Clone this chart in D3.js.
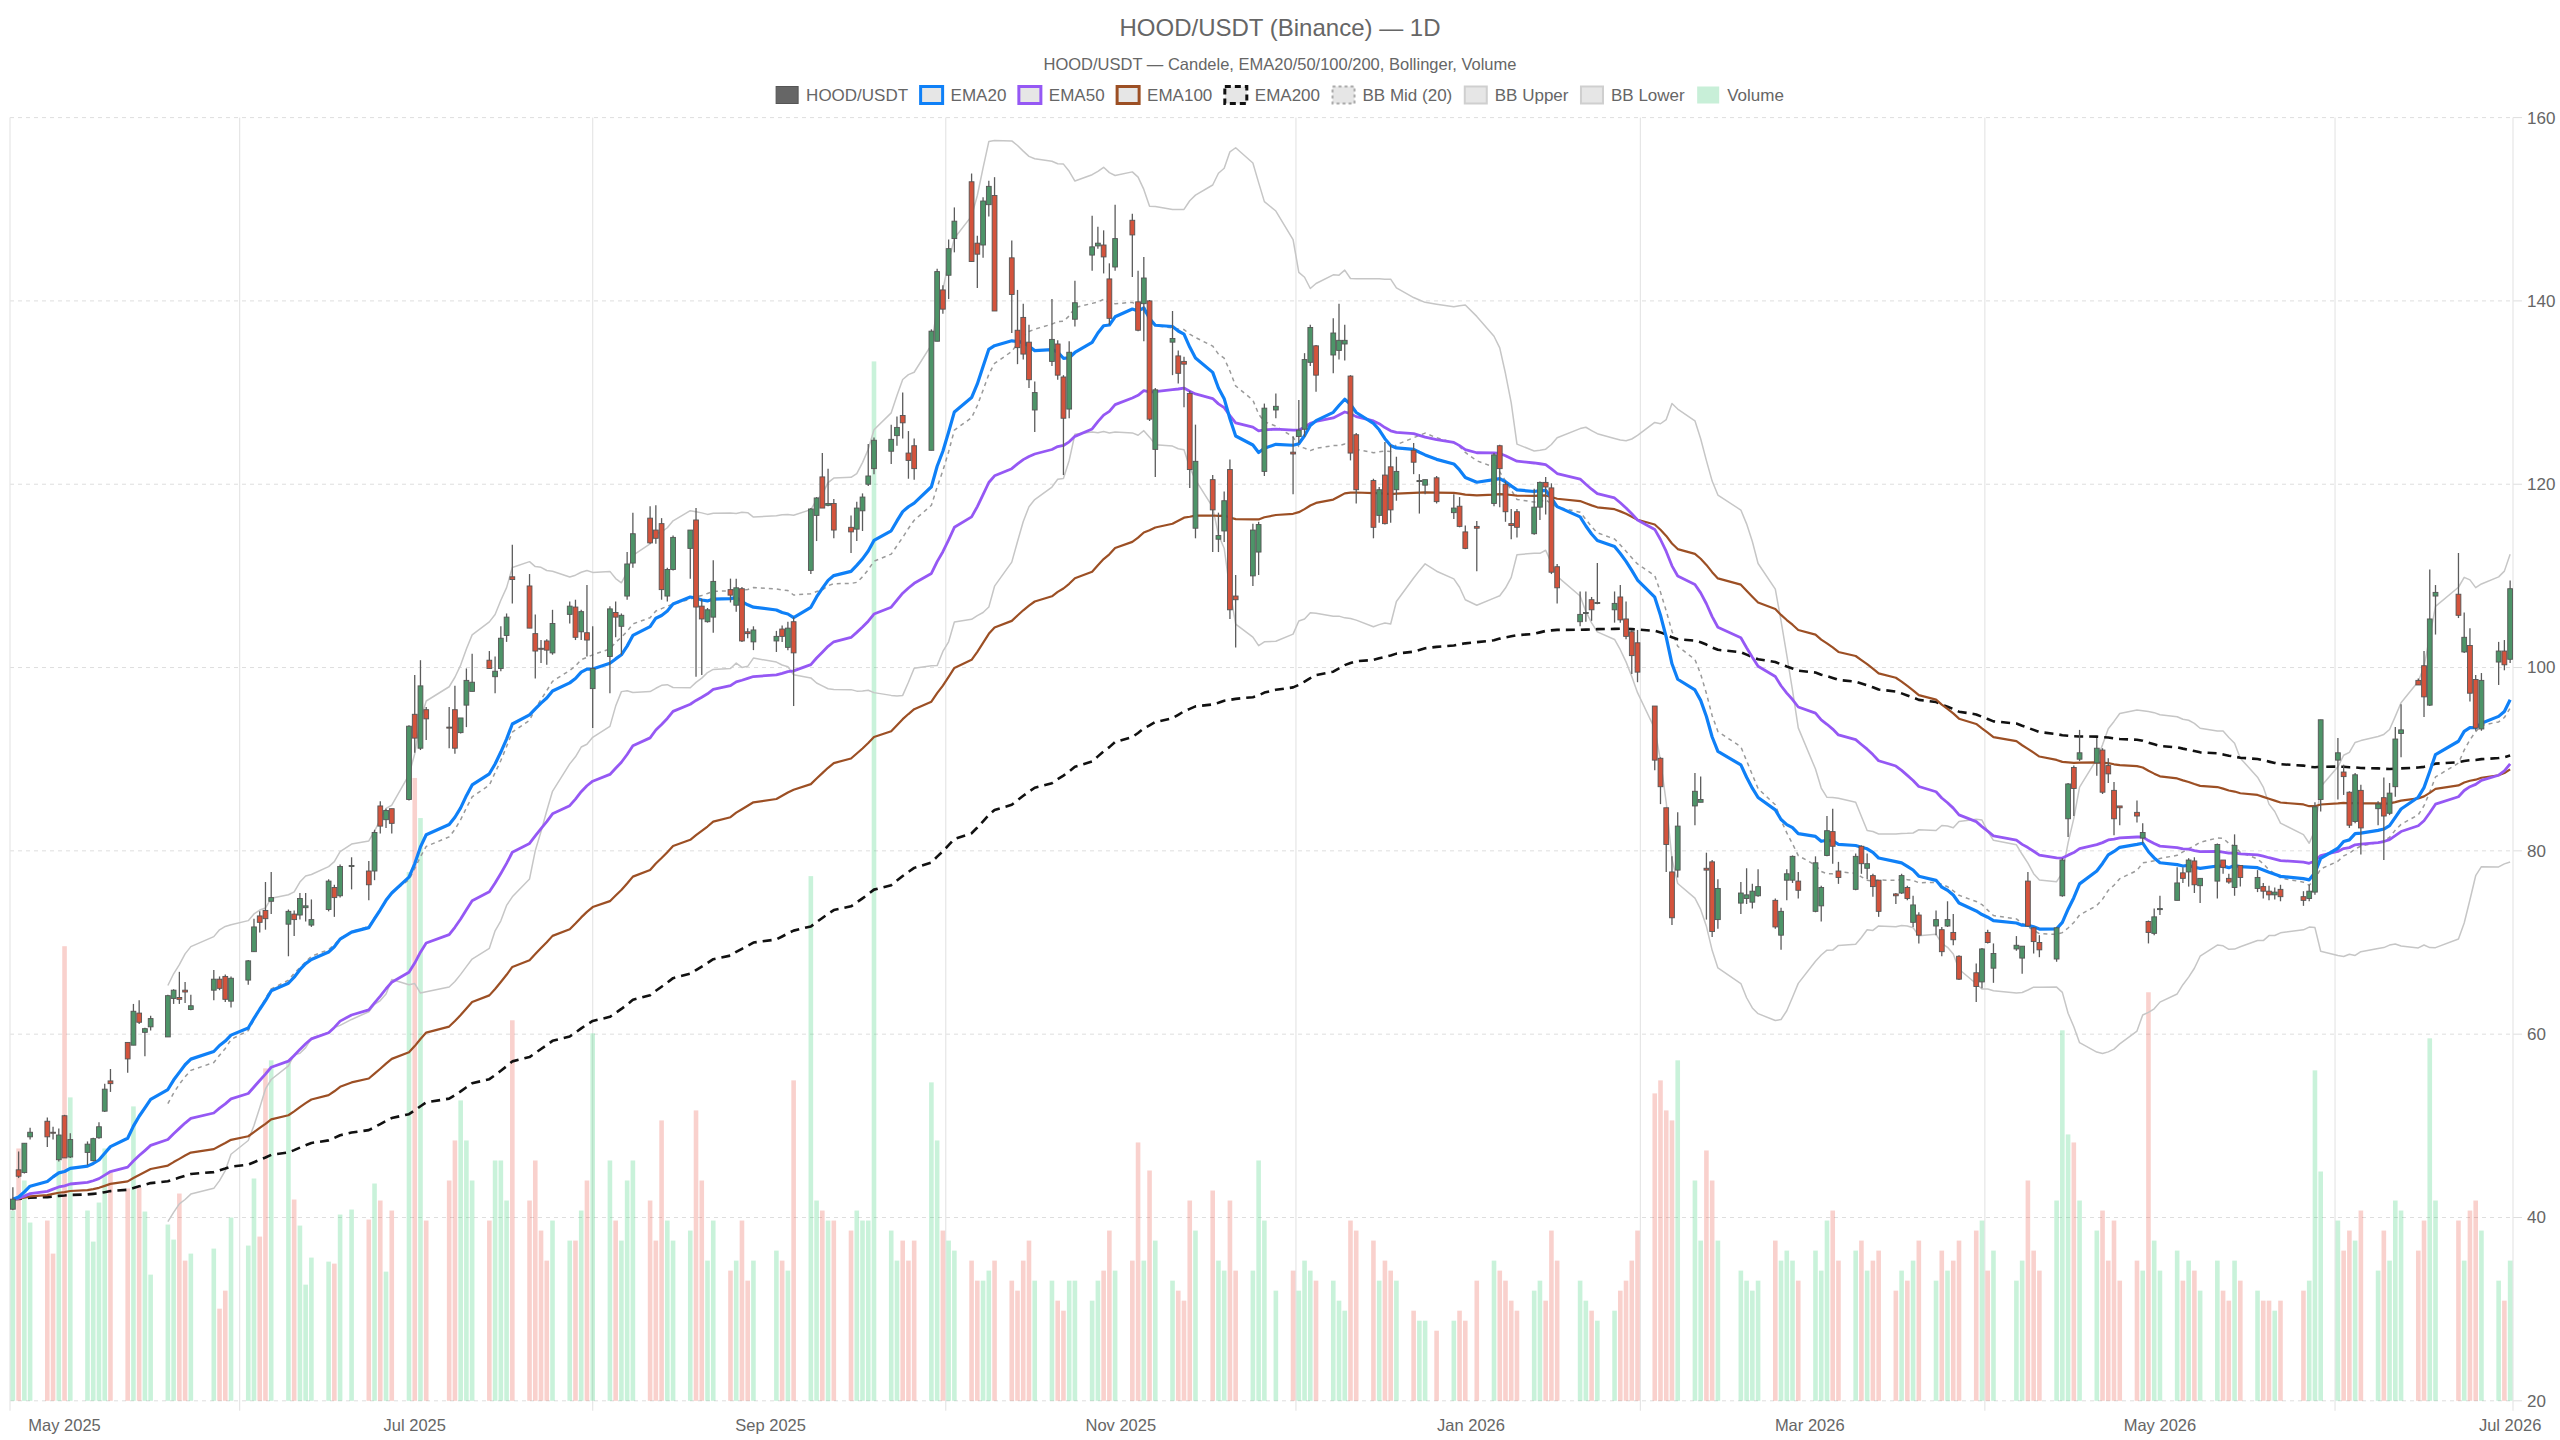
<!DOCTYPE html>
<html><head><meta charset="utf-8">
<script src="https://cdn.jsdelivr.net/npm/d3@7"></script>
<style>body{margin:0;background:#fff;}svg{display:block;font-family:"Liberation Sans",Arial,Helvetica,sans-serif;}</style>
</head><body>
<svg id="chart" width="2560" height="1440"></svg>
<script>
// ---------- DATA ----------
const startDate = "2025-04-22", endDate = "2026-07-01";
const holidays = ["2025-05-26","2025-06-19","2025-07-04","2025-09-01","2025-11-27","2025-12-25","2026-01-01","2026-01-19","2026-02-16","2026-04-03","2026-05-25","2026-06-19"];

const opens = [
40.9,45.2,44.9,48.8,50.5,49.3,46.3,
51.1,46.6,47.1,46.2,48.7,51.6,54.9,59.1,58.8,62.3,60.2,60.8,59.7,63.9,64.0,64.8,62.7,64.8,66.0,66.3,63.6,
65.9,69.0,72.9,73.5,74.5,72.0,73.1,73.0,73.8,71.9,73.6,76.0,75.1,78.3,77.8,77.8,84.9,83.4,84.6,85.6,
94.9,91.2,95.4,93.5,95.4,92.9,95.9,97.4,100.8,99.0,99.9,103.5,109.9,108.9,103.7,102.1,102.9,101.6,105.8,106.6,103.9,103.8,
97.7,101.2,106.0,104.5,107.8,111.4,116.3,115.0,115.7,107.8,110.7,113.0,116.1,106.7,105.0,105.5,108.5,106.8,108.6,103.9,102.8,
102.9,104.2,102.2,105.0,110.6,116.6,120.8,117.7,117.9,115.3,115.1,117.1,120.0,121.7,123.6,125.3,127.5,123.4,124.2,123.7,135.6,
141.2,142.8,146.8,153.0,146.3,146.1,150.5,151.5,144.7,136.8,138.2,135.5,128.1,133.4,135.3,131.7,128.2,138.0,145.0,146.0,146.1,142.4,143.7,
148.8,139.9,139.7,140.0,123.8,135.5,134.0,133.4,129.9,115.2,120.5,114.0,114.9,121.6,107.8,110.0,112.6,121.4,128.1,
123.5,125.2,126.0,133.3,135.1,134.1,134.6,135.3,131.8,125.4,120.4,116.6,121.0,121.9,119.4,123.7,120.3,119.9,120.7,116.9,117.6,114.8,
115.4,117.9,124.2,120.0,115.7,117.0,114.6,117.5,120.2,119.6,111.0,105.0,105.9,107.4,107.0,106.3,107.7,105.3,103.9,102.7,
95.8,90.1,84.7,77.7,77.9,84.9,85.3,78.1,78.8,72.5,74.3,74.8,74.4,75.1,74.6,70.8,76.8,76.8,76.7,
73.4,74.0,79.5,82.1,77.8,75.8,80.5,78.1,77.3,76.8,75.3,75.4,76.0,72.2,73.0,71.8,71.4,71.8,71.1,68.5,66.7,65.7,
71.1,67.2,69.3,68.3,76.7,71.6,70.0,68.2,75.1,83.5,89.1,90.0,89.6,91.0,89.3,86.6,84.9,84.2,81.4,72.3,71.0,
73.6,74.6,77.6,77.7,78.9,76.2,76.7,79.0,77.0,76.0,78.4,75.9,76.1,75.6,75.2,75.8,75.0,74.8,75.5,85.6,
89.9,88.6,86.4,83.2,86.6,84.6,85.8,84.1,87.0,92.8,98.6,100.2,95.9,107.8,108.0,101.7,102.4,98.7,93.3,100.6,101.8,
100.9];

const highs = [
43.3,47.2,48.1,49.8,50.9,49.9,49.7,
51.2,49.2,48.3,48.7,50.4,54.6,56.2,59.1,63.3,63.7,60.7,62.0,64.3,64.9,66.8,65.7,64.3,67.0,66.3,66.5,66.3,
68.1,72.6,73.4,76.6,77.7,73.6,73.5,75.4,75.4,74.7,76.9,76.3,78.5,79.3,78.9,82.3,85.4,84.6,84.6,93.7,
99.2,100.8,95.7,95.7,98.0,94.5,99.9,101.5,101.8,101.2,104.5,105.9,113.4,110.2,105.8,103.0,103.1,106.3,107.2,107.4,106.3,109.0,
104.5,106.7,107.2,105.9,112.6,116.9,117.6,117.7,116.3,110.9,114.4,115.0,117.4,107.5,106.5,111.7,109.7,109.7,108.8,104.3,104.5,
104.0,104.6,105.0,105.5,117.4,118.6,123.4,121.7,118.4,116.6,118.1,119.0,124.4,125.1,126.5,127.4,130.0,125.8,125.0,136.9,143.5,
141.7,146.7,150.2,153.9,147.1,151.3,153.1,153.5,146.6,141.2,139.7,137.4,131.2,140.2,135.7,131.9,135.6,142.2,149.3,148.1,147.7,144.1,150.5,
149.5,143.3,144.8,140.1,130.5,138.9,134.6,133.9,130.2,126.5,121.0,116.9,119.2,122.7,110.1,115.7,115.9,128.8,129.9,
125.2,129.2,134.3,137.4,135.2,138.1,139.7,137.4,131.9,125.6,120.6,119.7,124.6,124.3,123.0,124.5,121.1,120.5,120.9,118.9,118.6,115.5,
116.0,123.4,124.3,120.3,117.3,117.3,119.5,120.3,120.8,120.1,111.3,108.3,108.3,107.7,111.4,108.3,109.0,107.2,104.1,104.1,
95.8,90.2,84.7,79.4,84.2,88.5,88.1,79.8,79.0,76.9,76.6,78.1,76.4,78.0,74.8,73.8,78.0,79.5,77.7,
79.4,76.2,83.8,84.6,78.8,79.7,80.6,79.7,77.5,76.8,75.4,77.5,76.2,75.1,73.3,73.5,71.7,74.5,73.1,68.6,67.7,69.4,
71.4,69.9,70.7,69.6,77.7,71.7,70.8,71.7,79.2,87.4,89.3,93.2,92.3,91.2,90.1,87.5,84.9,85.5,83.0,72.4,73.7,
75.1,78.2,78.2,79.2,79.3,77.0,80.8,79.0,77.5,81.8,78.4,77.9,76.5,76.2,76.0,76.3,75.6,76.3,85.3,94.3,
92.3,89.4,86.5,88.5,87.2,85.4,88.0,87.4,93.5,96.0,98.8,101.8,110.7,109.0,112.5,106.0,104.3,99.2,99.4,102.8,103.0,
109.5];

const lows = [
40.8,44.3,44.8,48.5,47.7,48.5,46.1,
46.5,46.5,45.7,46.1,48.6,51.5,53.7,55.8,58.8,61.1,57.6,60.4,59.7,63.3,63.3,63.4,62.6,63.7,64.8,63.5,62.9,
65.4,69.0,71.1,71.4,73.1,68.5,70.7,72.5,72.3,71.7,73.4,72.8,74.9,75.8,74.6,76.8,81.9,82.5,81.9,85.5,
90.7,91.0,92.1,91.2,90.6,92.8,93.5,97.4,99.9,97.2,99.6,102.8,107.0,104.3,98.8,100.5,100.3,101.4,104.8,103.0,103.0,101.2,
93.4,97.2,103.3,101.4,107.4,110.9,113.5,113.5,107.4,107.2,110.6,109.7,99.0,99.2,104.9,103.8,107.1,106.1,102.8,103.2,101.9,
101.7,102.8,101.9,95.8,110.2,113.8,117.4,117.6,114.1,112.5,113.8,114.9,119.8,121.1,122.2,124.2,125.0,120.6,120.5,123.7,135.6,
138.6,140.2,145.3,144.3,141.4,144.7,149.2,138.9,136.5,133.1,133.6,130.5,125.7,132.9,131.4,121.0,127.2,137.2,143.3,145.7,143.0,137.4,143.3,
142.6,136.7,135.6,126.9,120.8,131.9,131.0,128.4,119.6,114.1,112.6,112.6,113.7,105.3,102.2,108.9,110.1,120.9,127.2,
118.9,124.5,125.2,132.9,130.1,132.1,133.6,133.5,122.6,117.9,114.1,115.8,115.6,115.8,118.2,121.1,116.8,118.9,117.9,116.2,115.3,112.9,
110.5,117.6,117.5,115.9,114.0,114.2,114.5,116.1,116.7,110.2,107.0,104.5,105.0,105.1,106.9,104.9,104.9,103.1,99.3,98.4,
88.8,85.1,77.7,71.9,77.1,82.8,85.3,72.5,70.6,71.5,73.1,74.2,73.7,75.0,71.5,69.2,74.6,76.5,74.8,
73.3,72.3,79.4,78.6,76.4,75.7,77.5,76.9,75.0,72.8,74.2,75.3,74.6,71.7,69.9,70.8,68.5,71.7,69.7,65.9,63.5,65.0,
69.9,65.6,69.1,66.6,71.7,68.8,68.4,67.9,75.0,81.5,83.8,89.8,88.2,86.2,87.4,81.7,82.8,83.1,80.8,69.9,70.8,
73.0,74.6,76.5,76.1,75.4,74.3,74.8,77.5,76.4,75.1,76.1,75.5,74.8,74.6,74.7,74.5,74.0,74.5,75.2,84.3,
85.6,86.1,82.5,83.0,79.6,82.8,79.0,83.9,85.9,90.2,98.1,94.6,95.8,103.6,105.4,101.6,96.3,93.1,93.1,98.1,99.7,
100.5];

const closes = [
42.0,44.5,48.1,49.3,48.8,49.2,49.0,
46.5,48.5,48.0,48.6,49.9,54.0,54.6,57.3,62.5,61.3,60.6,61.7,64.2,64.8,63.8,64.6,63.1,66.0,65.0,63.8,66.1,
68.0,71.7,72.2,72.6,74.9,73.4,72.5,74.8,74.0,72.5,76.7,74.9,78.3,78.4,76.3,82.0,82.7,84.4,83.0,93.6,
92.3,98.0,94.4,93.4,91.2,94.5,98.6,98.4,99.9,99.6,103.2,105.5,109.6,104.3,101.8,102.0,101.9,104.8,106.7,103.3,106.1,103.0,
99.9,106.4,105.5,105.7,111.3,114.6,113.6,114.1,108.5,110.7,114.2,115.0,106.6,105.3,106.3,109.4,107.9,108.7,102.9,103.7,104.1,
103.4,103.4,104.3,101.6,117.3,118.5,117.4,117.9,115.0,114.8,117.4,118.6,120.9,124.8,124.9,126.2,126.7,122.6,121.7,136.7,143.2,
139.1,145.7,148.7,144.3,145.1,150.9,152.5,138.9,140.7,134.9,134.2,131.4,130.0,135.8,131.9,127.2,134.4,139.8,145.9,146.3,144.8,138.1,146.8,
147.2,136.8,142.5,127.1,130.3,135.9,132.1,133.1,121.6,122.5,117.2,114.4,118.2,106.3,107.4,115.0,115.6,128.3,128.5,
123.3,125.9,133.6,137.1,131.9,136.5,135.7,135.7,123.4,119.4,115.3,119.4,115.7,117.2,121.4,122.4,120.4,120.5,118.1,117.4,115.4,113.0,
115.2,123.2,121.7,117.0,115.5,115.3,117.5,120.2,119.7,110.4,108.7,105.8,106.0,106.3,107.1,107.0,105.2,103.4,101.3,99.5,
89.9,87.0,80.7,72.7,82.7,86.5,85.6,77.9,71.2,75.9,75.4,75.2,75.6,76.1,71.7,73.4,77.5,79.4,75.7,
78.7,76.0,82.2,80.5,77.1,79.4,78.6,78.6,76.1,73.4,75.1,77.3,74.8,74.1,70.8,72.5,69.0,72.5,70.3,66.0,65.2,69.3,
70.0,68.8,69.7,69.6,71.8,70.1,69.2,71.6,79.0,87.3,86.8,90.7,91.2,86.4,88.4,83.5,84.7,83.8,82.0,71.1,72.8,
73.7,76.5,77.0,79.0,76.3,77.0,80.7,78.2,76.6,80.6,77.1,77.1,75.6,75.2,75.5,75.0,74.6,75.6,84.8,94.3,
90.7,88.1,82.8,88.3,82.5,85.1,83.8,86.3,92.2,93.2,98.1,96.8,105.3,108.2,105.7,103.3,97.2,93.4,98.6,101.8,100.3,
108.6];

const volumes = [
19.0,25.2,22.0,17.8,18.0,14.7,24.0,
45.4,30.3,19.0,15.9,19.8,25.2,22.8,21.2,29.4,21.3,18.9,12.6,17.6,16.1,20.7,14.0,14.7,15.2,9.2,11.0,18.3,
15.5,22.2,16.4,33.2,34.0,33.9,20.1,17.5,11.6,14.3,13.9,13.7,18.6,19.1,18.1,21.7,20.0,12.9,19.0,52.8,
62.2,58.2,18,22,26,30,26,22,18,24,24,20,38,20,24,17,14,18,16,16,19,22,
36.7,24,18,16,22,24,20,16,28,18,16,17,29,22,14,18,13,14,18,12,14,
15,14,13,32,52.4,20,19,18,18,17,19,18,18,103.8,17,14,16,14,16,31.8,26,
17,16,15,14,12,12,13,14,12,11,14,16,12,12,10,9,12,12,10,12,13,17,13,
14,25.8,14,23,16,12,11,10,20,17,21,14,13,20,13,13,24,18,11,
13,11,14,13,12,12,10,9,18,17,16,12,14,13,12,9,8,8,7,8,9,8,
12,14,13,12,10,9,11,12,10,17,14,12,10,9,8,9,11,12,14,17,
30.7,32,29,28,34,22,16,25,22,16,13,12,11,12,16,14,15,14,12,
15,13,18,19,14,15,16,13,14,15,11,13,12,14,16,12,15,13,14,16,17,18,
13,15,12,14,22,15,13,20,37,26.6,25.8,20,17,19,14,18,12,14,13,40.8,16,
13,15,12,14,13,11,14,11,10,14,12,11,10,10,9,10,11,12,33,22.9,
18,15,17,16,19,13,17,14,20,19,15,18,36.2,20,18,14,19,20,17,12,10,
14];

const priceTicks = [20,40,60,80,100,120,140,160];
const xTickDates = ["2025-05-01","2025-07-01","2025-09-01","2025-11-01","2026-01-01","2026-03-01","2026-05-01","2026-07-01"];
const xTickLabels = ["May 2025","Jul 2025","Sep 2025","Nov 2025","Jan 2026","Mar 2026","May 2026","Jul 2026"];
const legendLabels = ["HOOD/USDT","EMA20","EMA50","EMA100","EMA200","BB Mid (20)","BB Upper","BB Lower","Volume"];

// ---------- SETUP ----------
const W = 2560, H = 1440;
const M = {left:10, right:2513, top:117.6, bottom:1400.8};
const COL = {up:"#4d9468", down:"#d4533c", wick:"#5c5c5c", ema20:"#0f80f7", ema50:"#9558f4", ema100:"#9c4f24", ema200:"#111", bbMid:"#9a9a9a", bb:"#c6c6c6", volUp:"rgba(46,204,113,0.26)", volDn:"rgba(231,76,60,0.26)", text:"#666", grid:"#e6e6e6"};

const parseD = d3.timeParse("%Y-%m-%d"), fmtD = d3.timeFormat("%Y-%m-%d");
const hol = new Set(holidays);
const dates = d3.timeDay.range(parseD(startDate), d3.timeDay.offset(parseD(endDate),1))
  .filter(d => d.getDay()>0 && d.getDay()<6 && !hol.has(fmtD(d)));
const N = dates.length;
[opens,highs,lows,closes,volumes].forEach((a,k)=>{ if(a.length!==N) throw new Error("length mismatch "+k+": "+a.length+" vs "+N); });

const data = dates.map((d,i)=>({date:d, o:opens[i], h:highs[i], l:lows[i], c:closes[i], v:volumes[i]}));

function ema(vals, n){ const a=2/(n+1); const out=[]; let e=vals[0]; vals.forEach((v,i)=>{ e = i===0? v : a*v+(1-a)*e; out.push(e);}); return out; }
const e20=ema(closes,20), e50=ema(closes,50), e100=ema(closes,100), e200=ema(closes,200);
const bbM=[], bbU=[], bbL=[];
for(let i=0;i<N;i++){ if(i<19){bbM.push(null);bbU.push(null);bbL.push(null);continue;}
  const w=closes.slice(i-19,i+1); const m=d3.mean(w); const sd=Math.sqrt(d3.mean(w.map(v=>(v-m)*(v-m))));
  bbM.push(m); bbU.push(m+2*sd); bbL.push(m-2*sd); }

const x = d3.scaleTime().domain([d3.timeHour.offset(dates[0],-12), d3.timeHour.offset(dates[N-1],12)]).range([M.left,M.right]);
const y = d3.scaleLinear().domain([20,160]).range([M.bottom,M.top]);
const yv = d3.scaleLinear().domain([0, d3.max(volumes)/0.81]).range([M.bottom,M.top]);

const svg = d3.select("#chart");
svg.append("rect").attr("width",W).attr("height",H).attr("fill","#fff");

// title
svg.append("text").attr("x",W/2).attr("y",28).attr("dy","0.35em").attr("text-anchor","middle")
  .attr("font-size",24).attr("fill",COL.text).text("HOOD/USDT (Binance) — 1D");
svg.append("text").attr("x",W/2).attr("y",64).attr("dy","0.35em").attr("text-anchor","middle")
  .attr("font-size",16.5).attr("fill",COL.text).text("HOOD/USDT — Candele, EMA20/50/100/200, Bollinger, Volume");

// grid
const gGrid = svg.append("g");
priceTicks.forEach(t=>{
  gGrid.append("line").attr("x1",M.left).attr("x2",M.right).attr("y1",y(t)).attr("y2",y(t))
    .attr("stroke","#dedede").attr("stroke-width",1).attr("stroke-dasharray","4,4");
  gGrid.append("line").attr("x1",M.right).attr("x2",M.right+9).attr("y1",y(t)).attr("y2",y(t))
    .attr("stroke","#dedede").attr("stroke-width",1);
  svg.append("text").attr("x",M.right+14).attr("y",y(t)).attr("dy","0.35em").attr("font-size",17).attr("fill",COL.text).text(t);
});
const tickX = xTickDates.map(s=>x(parseD(s)));
const gridX = [M.left, M.right];
for(let k=0;k<tickX.length-1;k++) gridX.push((tickX[k]+tickX[k+1])/2);
gridX.forEach(gx=>{
  gGrid.append("line").attr("x1",gx).attr("x2",gx).attr("y1",M.top).attr("y2",M.bottom+10)
    .attr("stroke",COL.grid).attr("stroke-width",1.2);
});
xTickLabels.forEach((lab,k)=>{
  svg.append("text").attr("x",tickX[k]).attr("y",1425).attr("dy","0.35em").attr("text-anchor","middle")
    .attr("font-size",16.5).attr("fill",COL.text).text(lab);
});

// volume
svg.append("g").selectAll("rect").data(data).join("rect")
  .attr("x",d=>x(d.date)-2.3).attr("width",4.6)
  .attr("y",d=>yv(d.v)).attr("height",d=>M.bottom-yv(d.v))
  .attr("fill",d=>d.c>=d.o?COL.volUp:COL.volDn);

// lines
function drawLine(vals, color, width, dash){
  const ln = d3.line().defined((v,i)=>v!==null).x((v,i)=>x(dates[i])).y(v=>y(v));
  svg.append("path").datum(vals).attr("d",ln).attr("fill","none").attr("stroke",color)
    .attr("stroke-width",width).attr("stroke-linejoin","round").attr("stroke-dasharray",dash||null);
}
drawLine(bbL, COL.bb, 1.5);
drawLine(bbU, COL.bb, 1.5);
drawLine(bbM, COL.bbMid, 1.5, "4,4");
drawLine(e200, COL.ema200, 2.6, "9,6");
drawLine(e100, COL.ema100, 2.2);
drawLine(e50, COL.ema50, 2.8);
drawLine(e20, COL.ema20, 3.2);

// candles
const gC = svg.append("g");
const cg = gC.selectAll("g").data(data).join("g");
cg.append("line").attr("x1",d=>x(d.date)).attr("x2",d=>x(d.date)).attr("y1",d=>y(d.h)).attr("y2",d=>y(d.l))
  .attr("stroke",COL.wick).attr("stroke-width",1.3);
cg.append("rect").attr("x",d=>x(d.date)-2.4).attr("width",4.8)
  .attr("y",d=>y(Math.max(d.o,d.c))).attr("height",d=>Math.max(1,Math.abs(y(d.o)-y(d.c))))
  .attr("fill",d=>d.c>=d.o?COL.up:COL.down).attr("stroke","#555").attr("stroke-width",0.9);

// legend
const legendStyles = [
  {fill:"#666", stroke:"#555", sw:1},
  {fill:"#e6e6e6", stroke:COL.ema20, sw:3},
  {fill:"#e6e6e6", stroke:COL.ema50, sw:3},
  {fill:"#e6e6e6", stroke:COL.ema100, sw:3},
  {fill:"#e6e6e6", stroke:"#111", sw:3, dash:"6,4"},
  {fill:"#e6e6e6", stroke:"#aaa", sw:2, dash:"3,3"},
  {fill:"#e6e6e6", stroke:"#cfcfcf", sw:2},
  {fill:"#e6e6e6", stroke:"#cfcfcf", sw:2},
  {fill:"#c8efd8", stroke:"none", sw:0}
];
const lg = svg.append("g");
let lx = 0;
const GAP = 12.5;
legendLabels.forEach((lab,k)=>{
  const st = legendStyles[k];
  const g = lg.append("g").attr("transform",`translate(${lx},0)`);
  g.append("rect").attr("x",0).attr("y",-8.5).attr("width",22).attr("height",17)
    .attr("fill",st.fill).attr("stroke",st.stroke).attr("stroke-width",st.sw).attr("stroke-dasharray",st.dash||null);
  const t = g.append("text").attr("x",30).attr("y",0).attr("dy","0.35em").attr("font-size",17).attr("fill",COL.text).text(lab);
  lx += 30 + t.node().getComputedTextLength() + GAP;
});
lg.attr("transform",`translate(${W/2-(lx-GAP)/2},95)`);
</script>
</body></html>
